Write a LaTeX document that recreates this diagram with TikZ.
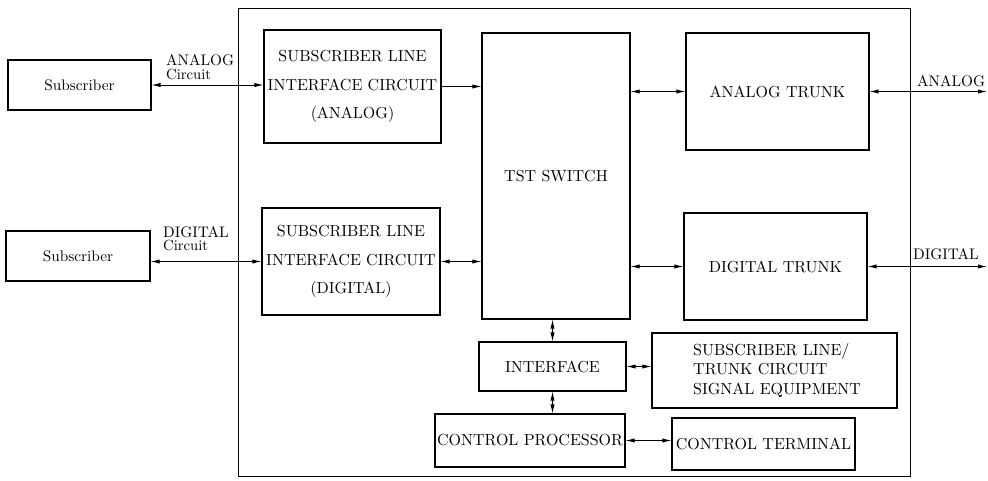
\documentclass[tikz,border=0pt]{standalone}
\usepackage{fontspec}
\setmainfont{lmroman10-regular}[Extension=.otf]
\usetikzlibrary{arrows.meta}
\begin{document}
\begin{tikzpicture}[x=1pt,y=-1pt,
  box/.style={draw,line width=1.1pt,inner sep=0pt,align=center,
    font=\fontsize{16}{28.5}\selectfont},
  subbox/.style={box,font=\fontsize{15.3}{18}\selectfont},
  link/.style={line width=0.8pt,{Latex[length=9pt,width=4.2pt]}-{Latex[length=9pt,width=4.2pt]}},
  onelink/.style={line width=0.8pt,-{Latex[length=9pt,width=4.2pt]}},
  lbl/.style={inner sep=0pt,anchor=base west,font=\fontsize{15.3}{17}\selectfont},
  sublbl/.style={inner sep=0pt,anchor=base west,font=\fontsize{14.7}{15}\selectfont}]
\useasboundingbox (0,0) rectangle (988,481);

% exchange frame
\draw[line width=1pt] (238,9) rectangle (910,476);

% blocks
\node[subbox,minimum width=143,minimum height=50] (sub1) at (79.5,85) {Subscriber};
\node[subbox,minimum width=144,minimum height=50] (sub2) at (78,256) {Subscriber};
\node[box,minimum width=177,minimum height=113] (slicA) at (352.5,86.5)
  {SUBSCRIBER LINE\\INTERFACE CIRCUIT\\(ANALOG)};
\node[box,minimum width=178,minimum height=107] (slicD) at (351,261.5)
  {SUBSCRIBER LINE\\INTERFACE CIRCUIT\\(DIGITAL)};
\node[box,minimum width=148,minimum height=286] (tst) at (556,176) {TST SWITCH};
\node[box,minimum width=183,minimum height=117] (atrunk) at (777.5,91.5) {ANALOG TRUNK};
\node[box,minimum width=183,minimum height=107] (dtrunk) at (775.5,266.5) {DIGITAL TRUNK};
\node[box,minimum width=147,minimum height=49] (iface) at (552.5,366.5) {INTERFACE};
\node[box,minimum width=190,minimum height=53] (cproc) at (530,440.5) {CONTROL PROCESSOR};
\node[box,minimum width=245,minimum height=75] (sltc) at (774.5,370.5) {};
\node[inner sep=0pt,anchor=west,align=left,font=\fontsize{16}{19.5}\selectfont]
  (sltctext) at (693,370.5) {SUBSCRIBER LINE/\\TRUNK CIRCUIT\\SIGNAL EQUIPMENT};
\node[box,minimum width=183,minimum height=52] (cterm) at (763.5,444) {CONTROL TERMINAL};

% outside line ends
\coordinate (aout) at (987,91.5);
\coordinate (dout) at (987,266.5);

% connectors
\draw[link] (sub1.east) -- (sub1.east -| slicA.west);
\draw[link] (slicD.west -| sub2.east) -- (slicD.west);
\draw[onelink] (slicA.east) -- (slicA.east -| tst.west);
\draw[link] (slicD.east) -- (slicD.east -| tst.west);
\draw[link] (atrunk.west -| tst.east) -- (atrunk.west);
\draw[link] (dtrunk.west -| tst.east) -- (dtrunk.west);
\draw[link] (atrunk.east) -- (aout);
\draw[link] (dtrunk.east) -- (dout);
\draw[link] (iface.north |- tst.south) -- (iface.north);
\draw[link] (iface.south) -- (iface.south |- cproc.north);
\draw[link] (iface.east) -- (iface.east -| sltc.west);
\draw[link] (cproc.east) -- (cproc.east -| cterm.west);

% line labels
\node[lbl] (la) at (166,66) {ANALOG};
\node[sublbl] (lac) at (166,80) {Circuit};
\node[lbl] (ld) at (163,237) {DIGITAL};
\node[sublbl] (ldc) at (163,251) {Circuit};
\node[lbl] (ra) at (917,87) {ANALOG};
\node[lbl] (rd) at (913,259) {DIGITAL};
\end{tikzpicture}
\end{document}
